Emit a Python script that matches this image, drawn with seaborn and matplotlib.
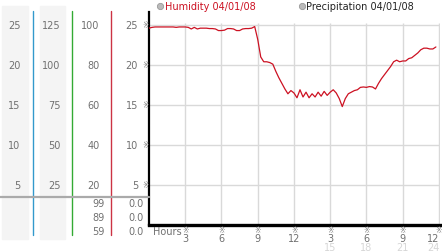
import matplotlib
matplotlib.use("Agg")
import matplotlib.pyplot as plt
import matplotlib.transforms as mtransforms
from matplotlib.patches import Rectangle
from matplotlib.lines import Line2D
import seaborn as sns
import pandas as pd
import numpy as np

# ---------------- data ----------------
hours = [i * 0.25 for i in range(96)]
humidity = [
    24.6, 24.7, 24.75, 24.75, 24.75, 24.75, 24.75, 24.75,   # 0-1.75
    24.75, 24.7, 24.75, 24.75, 24.75, 24.7, 24.5, 24.7,     # 2-3.75
    24.5, 24.6, 24.6, 24.6, 24.55, 24.55, 24.5, 24.3,       # 4-5.75
    24.3, 24.35, 24.55, 24.55, 24.5, 24.3, 24.3, 24.5,      # 6-7.75
    24.55, 24.55, 24.6, 24.8, 23.2, 21.0, 20.4, 20.4,       # 8-9.75
    20.3, 20.1, 19.2, 18.4, 17.7, 17.0, 16.4, 16.8,         # 10-11.75
    16.5, 15.9, 16.9, 16.0, 16.6, 15.9, 16.4, 16.0,         # 12-13.75
    16.6, 16.1, 16.7, 16.2, 16.6, 16.9, 16.5, 15.8,         # 14-15.75
    14.8, 15.8, 16.4, 16.6, 16.8, 16.9, 17.2, 17.25,        # 16-17.75
    17.2, 17.3, 17.25, 17.0, 17.7, 18.3, 18.8, 19.3,        # 18-19.75
    19.8, 20.4, 20.6, 20.4, 20.5, 20.5, 20.8, 20.9,         # 20-21.75
    21.2, 21.5, 21.9, 22.1, 22.1, 22.0, 22.0, 22.25,        # 22-23.75
]
y_ticks = [25, 20, 15, 10, 5]
col1_labels = ["25", "20", "15", "10", "5"]
col2_labels = ["125", "100", "75", "50", "25"]
col3_labels = ["100", "80", "60", "40", "20"]
stat_left = ["99", "89", "59"]
stat_right = ["0.0", "0.0", "0.0"]
x_ticks = [3, 6, 9, 12, 15, 18, 21, 24]
x_labels = ["3", "6", "9", "12", "3", "6", "9", "12"]
x_sublabels = ["", "", "", "", "15", "18", "21", "24"]
legend_labels = ["Humidity 04/01/08", "Precipitation 04/01/08"]

df = pd.DataFrame({"hour": hours, "humidity": humidity})

# ---------------- figure ----------------
sns.set_style("white")
plt.rcParams["font.family"] = ["DejaVu Sans"]
W, H = 442, 253
fig = plt.figure(figsize=(W / 100, H / 100), dpi=100)
fig.patch.set_facecolor("white")

def fx(px):
    return px / W

def fy(py):
    return 1 - py / H

ax = fig.add_axes([fx(149), fy(226), fx(440) - fx(149), fy(13) - fy(226)])
ax.set_xlim(0, 24.09)
ax.set_ylim(0, 26.62)
ax.set_facecolor("none")

grid_c = "#d9d9d9"
ax.hlines(y_ticks, 0, 24.09, color=grid_c, lw=1.0, zorder=1)
ax.vlines(x_ticks, 0, 25.2, color=grid_c, lw=1.0, zorder=1)

sns.lineplot(data=df, x="hour", y="humidity", ax=ax, color="#cc1122",
             lw=0.9, zorder=3, legend=False)

for s in ["top", "right"]:
    ax.spines[s].set_visible(False)
ax.spines["left"].set_linewidth(1.6)
ax.spines["left"].set_color("black")
ax.spines["bottom"].set_linewidth(2.4)
ax.spines["bottom"].set_color("black")
ax.set_xlabel("")
ax.set_ylabel("")
ax.set_xticks([])
ax.set_yticks([])

lab_c = "#707070"
fs = 7.0
mark_c = "#777777"
mark_fs = 5.5
blend_y = mtransforms.blended_transform_factory(fig.transFigure, ax.transData)
blend_x = mtransforms.blended_transform_factory(ax.transData, fig.transFigure)

# left panel background bands
for x0, x1 in [(2, 28), (40, 65)]:
    fig.patches.append(Rectangle((fx(x0), fy(240)), fx(x1) - fx(x0), fy(7) - fy(240),
                                 transform=fig.transFigure, color="#f4f4f4", zorder=0))
# vertical coloured lines
for xp, c in [(33, "#3399cc"), (72, "#33aa33"), (111, "#cc3344")]:
    fig.add_artist(Line2D([fx(xp), fx(xp)], [fy(12), fy(236)], color=c, lw=1.0,
                          transform=fig.transFigure))
# horizontal gray separator
fig.add_artist(Line2D([0, fx(149)], [fy(197.5), fy(197.5)], color="#aaaaaa", lw=1.6,
                      transform=fig.transFigure))

for v, a, b, c in zip(y_ticks, col1_labels, col2_labels, col3_labels):
    fig.text(fx(20.5), v, a, transform=blend_y, ha="right", va="center", fontsize=fs, color=lab_c)
    fig.text(fx(60.5), v, b, transform=blend_y, ha="right", va="center", fontsize=fs, color=lab_c)
    fig.text(fx(99.5), v, c, transform=blend_y, ha="right", va="center", fontsize=fs, color=lab_c)
    fig.text(fx(138), v, str(v), transform=blend_y, ha="right", va="center", fontsize=fs, color=lab_c)
    fig.text(fx(145.5), v, "\u203b", transform=blend_y, ha="center", va="center",
             fontsize=mark_fs, color=mark_c)

for i, (a, b) in enumerate(zip(stat_left, stat_right)):
    yy = fy(204 + i * 13.8)
    fig.text(fx(105), yy, a, ha="right", va="center", fontsize=fs, color=lab_c)
    fig.text(fx(144), yy, b, ha="right", va="center", fontsize=fs, color=lab_c)

# x labels
fig.text(fx(153), fy(232.5), "Hours", ha="left", va="center", fontsize=fs, color=lab_c)
for i, (xt, a, b) in enumerate(zip(x_ticks, x_labels, x_sublabels)):
    ha = "center" if i < len(x_ticks) - 1 else "right"
    off = 0 if i < len(x_ticks) - 1 else 0.05
    ax.text(xt, fy(230.8), "\u203b", transform=blend_x, ha="center", va="center",
            fontsize=mark_fs, color=mark_c)
    ax.text(xt + off, fy(239), a, transform=blend_x, ha=ha, va="center", fontsize=fs, color=lab_c)
    if b:
        ax.text(xt + off, fy(248), b, transform=blend_x, ha=ha, va="center", fontsize=fs,
                color="#d6d6d6")

# legend
for xc, xt, lab, c in [(160, 165, legend_labels[0], "#cc1122"),
                       (301.5, 305.5, legend_labels[1], "#222222")]:
    fig.add_artist(Line2D([fx(xc)], [fy(6.5)], marker="o", markersize=4.5,
                          markerfacecolor="#bbbbbb", markeredgecolor="#999999",
                          markeredgewidth=0.6, transform=fig.transFigure, linestyle="none"))
    fig.text(fx(xt), fy(6.5), lab, ha="left", va="center", fontsize=fs, color=c)

fig.savefig("out.png", dpi=100)
